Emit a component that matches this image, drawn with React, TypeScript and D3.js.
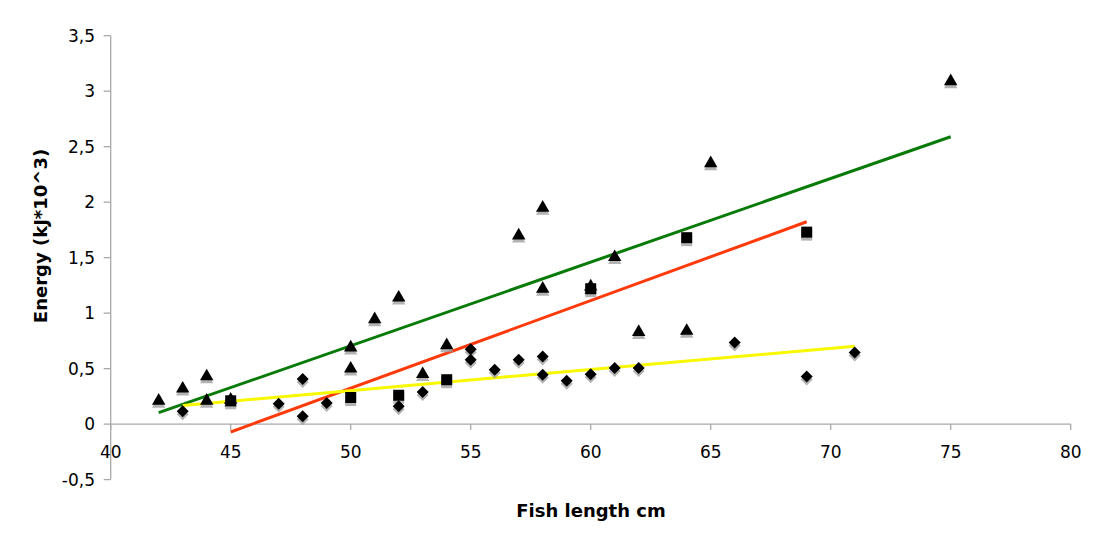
import React from "react";
import * as d3 from "d3";

// Series 1 (triangles, green trend)
const triX = [42, 43, 44, 44, 45, 50, 50, 51, 52, 53, 54, 57, 58, 58, 60, 61, 62, 64, 65, 75];
const triY = [0.22, 0.33, 0.44, 0.22, 0.23, 0.70, 0.51, 0.955, 1.15, 0.46, 0.72, 1.71, 1.96, 1.23, 1.25, 1.515, 0.84, 0.85, 2.36, 3.10];
// Series 2 (squares, red trend)
const sqX = [45, 50, 52, 54, 60, 64, 69];
const sqY = [0.21, 0.24, 0.26, 0.40, 1.22, 1.68, 1.73];
// Series 3 (diamonds, yellow trend)
const diaX = [43, 47, 48, 48, 49, 52, 53, 55, 55, 56, 57, 58, 58, 59, 60, 61, 62, 66, 69, 71];
const diaY = [0.115, 0.184, 0.406, 0.07, 0.19, 0.16, 0.29, 0.675, 0.58, 0.49, 0.58, 0.61, 0.445, 0.39, 0.45, 0.505, 0.505, 0.735, 0.43, 0.645];

const xTicks = [40, 45, 50, 55, 60, 65, 70, 75, 80];
const yTicks = [-0.5, 0, 0.5, 1, 1.5, 2, 2.5, 3, 3.5];
const xTitle = "Fish length cm";
const yTitle = "Energy (kJ*10^3)";

const W = 1095;
const H = 536;
const x = d3.scaleLinear().domain([40, 80]).range([110.7, 1070.7]);
const y = d3.scaleLinear().domain([-0.5, 3.5]).range([479.6, 35.7]);

const fmt = (v: number) => String(v).replace(".", ",");

function fit(xs: number[], ys: number[]) {
  const mx = d3.mean(xs)!;
  const my = d3.mean(ys)!;
  let sxy = 0, sxx = 0;
  xs.forEach((xi, i) => {
    sxy += (xi - mx) * (ys[i] - my);
    sxx += (xi - mx) * (xi - mx);
  });
  const b = sxy / sxx;
  const a = my - b * mx;
  const [x0, x1] = d3.extent(xs) as [number, number];
  return [[x0, a + b * x0], [x1, a + b * x1]] as [number, number][];
}

const line = d3.line<[number, number]>().x((d) => x(d[0])).y((d) => y(d[1]));

const triPath = (s: number) => `M0,${-s * 0.55}L${s * 0.56},${s * 0.42}L${-s * 0.56},${s * 0.42}Z`;
const sqPath = (s: number) => `M${-s / 2},${-s / 2}h${s}v${s}h${-s}Z`;
const diaPath = (s: number) => `M0,${-s / 2}L${s / 2},0L0,${s / 2}L${-s / 2},0Z`;

function Markers({ xs, ys, d }: { xs: number[]; ys: number[]; d: string }) {
  return (
    <g>
      {xs.map((xv, i) => (
        <g key={i} transform={`translate(${x(xv)},${y(ys[i])})`}>
          <path d={d} transform="translate(0,3)" fill="#9a9a9a" opacity={0.75} filter="url(#blur)" />
          <path d={d} fill="#000" />
        </g>
      ))}
    </g>
  );
}

export default function App() {
  const font = "'DejaVu Sans', Verdana, sans-serif";
  const axisColor = "#a8a8a8";
  return (
    <svg width={W} height={H} style={{ position: "absolute", left: 0, top: 0, background: "#fff" }}>
      <defs>
        <filter id="blur" x="-50%" y="-50%" width="200%" height="200%">
          <feGaussianBlur stdDeviation="0.7" />
        </filter>
      </defs>
      {/* Y axis */}
      <line x1={x(40)} x2={x(40)} y1={y(3.5)} y2={y(-0.5)} stroke={axisColor} strokeWidth={1.3} />
      {yTicks.map((t) => (
        <g key={t}>
          <line x1={x(40) - 7} x2={x(40)} y1={y(t)} y2={y(t)} stroke={axisColor} strokeWidth={1.3} />
          <text x={95} y={y(t)} dy="0.36em" textAnchor="end" fontFamily={font} fontSize={17} fill="#000">
            {fmt(t)}
          </text>
        </g>
      ))}
      {/* X axis at y = 0 */}
      <line x1={x(40)} x2={x(80)} y1={y(0)} y2={y(0)} stroke={axisColor} strokeWidth={1.3} />
      {xTicks.map((t) => (
        <g key={t}>
          <line x1={x(t)} x2={x(t)} y1={y(0)} y2={y(0) + 6} stroke={axisColor} strokeWidth={1.3} />
          <text x={x(t)} y={458} textAnchor="middle" fontFamily={font} fontSize={17} fill="#000">
            {t}
          </text>
        </g>
      ))}
      {/* Trend lines */}
      <path d={line(fit(triX, triY))!} stroke="#077a07" strokeWidth={3} fill="none" />
      <path d={line(fit(sqX, sqY))!} stroke="#ff3a0a" strokeWidth={3} fill="none" />
      <path d={line(fit(diaX, diaY))!} stroke="#f8f800" strokeWidth={3} fill="none" />
      {/* Markers */}
      <Markers xs={triX} ys={triY} d={triPath(12)} />
      <Markers xs={sqX} ys={sqY} d={sqPath(11)} />
      <Markers xs={diaX} ys={diaY} d={diaPath(12)} />
      {/* Titles */}
      <text x={591} y={517} textAnchor="middle" fontFamily={font} fontWeight="bold" fontSize={18} fill="#000">
        {xTitle}
      </text>
      <text
        transform={`translate(47,236) rotate(-90)`}
        textAnchor="middle"
        fontFamily={font}
        fontWeight="bold"
        fontSize={18}
        fill="#000"
      >
        {yTitle}
      </text>
    </svg>
  );
}
